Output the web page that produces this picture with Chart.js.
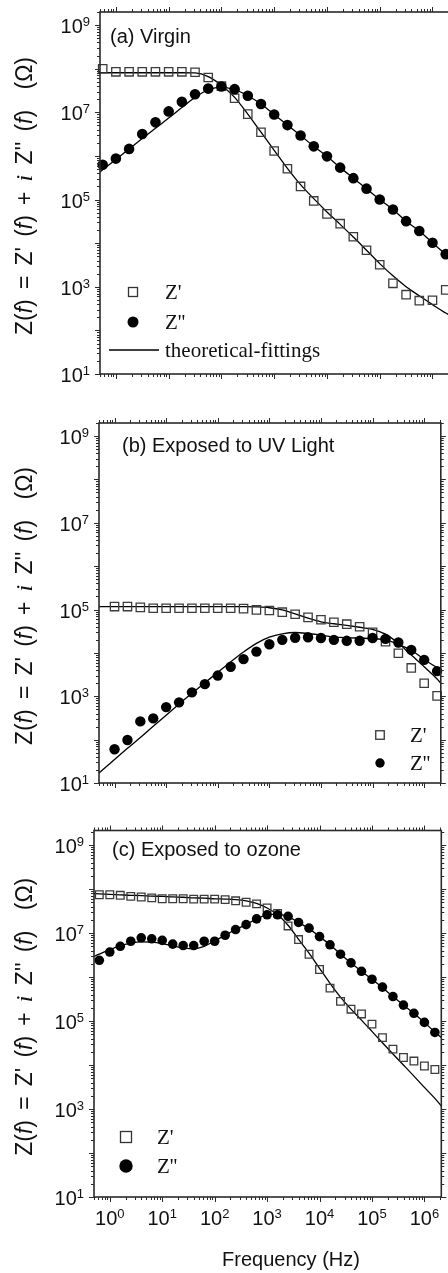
<!DOCTYPE html>
<html>
<head>
  <title>Impedance spectra</title>
  <script src="https://cdn.jsdelivr.net/npm/chart.js"></script>
  <style>
    html, body { margin: 0; padding: 0; overflow: hidden; background: #fff; }
    body { position: relative; width: 448px; height: 1273px; }
    canvas { position: absolute; left: 0; }
  </style>
</head>
<body>
  <canvas id="panelA" width="460" height="400" style="top:0px"></canvas>
  <canvas id="panelB" width="448" height="410" style="top:400px"></canvas>
  <canvas id="panelC" width="448" height="463" style="top:810px"></canvas>

  <script>
    // ---- (a) Virgin : quarter decade steps
    const freqA = [0.562, 1, 1.78, 3.16, 5.62, 10, 17.8, 31.6, 56.2, 100, 178, 316, 562, 1e3, 1.78e3, 3.16e3, 5.62e3,
      1e4, 1.78e4, 3.16e4, 5.62e4, 1e5, 1.78e5, 3.16e5, 5.62e5, 1e6, 1.78e6];
    const reA = [1.0e8, 8.5e7, 8.5e7, 8.5e7, 8.5e7, 8.5e7, 8.5e7, 8.3e7, 6.3e7, 4.0e7, 2.1e7, 9.1e6, 3.5e6, 1.3e6, 5.1e5,
      2.0e5, 9.3e4, 4.7e4, 2.8e4, 1.4e4, 6.9e3, 3.2e3, 1.2e3, 660, 480, 490, 850];
    const imA = [6.3e5, 8.7e5, 1.45e6, 3.2e6, 5.9e6, 1.05e7, 1.74e7, 2.6e7, 3.5e7, 3.9e7, 3.4e7, 2.4e7, 1.55e7, 8.9e6,
      5.1e6, 2.95e6, 1.66e6, 9.8e5, 5.4e5, 3.1e5, 1.78e5, 1.0e5, 5.9e4, 3.2e4, 1.9e4, 1.02e4, 5.6e3];
    const fitFreqA = [0.5, 0.562, 1, 1.78, 3.16, 5.62, 10, 17.8, 31.6, 56.2, 100, 178, 316, 562, 1e3, 1.78e3, 3.16e3, 5.62e3,
      1e4, 1.78e4, 3.16e4, 5.62e4, 1e5, 1.78e5, 3.16e5, 5.62e5, 1e6, 1.78e6, 2.1e6];
    const fitReA = [8.1e7, 8.1e7, 8.1e7, 8.1e7, 8.1e7, 8.1e7, 8.1e7, 8.1e7, 8.0e7, 6.6e7, 4.2e7, 2.2e7, 9.1e6, 3.5e6, 1.35e6,
      5.2e5, 2.2e5, 1.05e5, 5.2e4, 2.7e4, 1.38e4, 6.9e3, 3.4e3, 1.78e3, 1.0e3, 620, 390, 250, 224];
    const fitImA = [4.3e5, 4.8e5, 8.3e5, 1.45e6, 2.5e6, 4.3e6, 7.4e6, 1.29e7, 2.2e7, 3.3e7, 3.8e7, 3.3e7, 2.4e7, 1.55e7,
      8.9e6, 5.1e6, 2.95e6, 1.66e6, 9.8e5, 5.4e5, 3.1e5, 1.78e5, 1.0e5, 5.9e4, 3.2e4, 1.9e4, 1.02e4, 5.6e3, 4.8e3];

    // ---- (b) Exposed to UV light
    const freqB = [1, 1.78, 3.16, 5.62, 10, 17.8, 31.6, 56.2, 100, 178, 316, 562, 1e3, 1.78e3, 3.16e3, 5.62e3,
      1e4, 1.78e4, 3.16e4, 5.62e4, 1e5, 1.78e5, 3.16e5, 5.62e5, 1e6, 1.78e6];
    const reB = [1.17e5, 1.17e5, 1.12e5, 1.07e5, 1.07e5, 1.07e5, 1.07e5, 1.07e5, 1.07e5, 1.07e5, 1.05e5, 9.8e4, 9.5e4,
      8.7e4, 7.8e4, 6.6e4, 5.8e4, 5.1e4, 4.6e4, 4.0e4, 3.0e4, 1.82e4, 9.8e3, 4.5e3, 2.0e3, 1.02e3];
    const imB = [60, 98, 263, 309, 562, 724, 1230, 1900, 3000, 4800, 7200, 1.07e4, 1.58e4, 2.0e4, 2.24e4, 2.3e4, 2.2e4,
      2.0e4, 1.9e4, 1.9e4, 2.2e4, 2.1e4, 1.74e4, 1.17e4, 6900, 3800];
    const fitFreqB = [0.5, 1, 1.78, 3.16, 5.62, 10, 17.8, 31.6, 56.2, 100, 178, 316, 562, 1e3, 1.78e3, 3.16e3, 5.62e3,
      1e4, 1.78e4, 3.16e4, 5.62e4, 1e5, 1.78e5, 3.16e5, 5.62e5, 1e6, 1.78e6, 2.1e6];
    const fitReB = [1.17e5, 1.17e5, 1.17e5, 1.17e5, 1.17e5, 1.17e5, 1.17e5, 1.17e5, 1.17e5, 1.17e5, 1.17e5, 1.17e5,
      1.15e5, 1.10e5, 9.8e4, 7.9e4, 6.3e4, 5.2e4, 4.7e4, 4.3e4, 3.9e4, 3.5e4, 2.7e4, 1.66e4, 8.9e3, 4.8e3, 2.5e3, 2.0e3];
    const fitImB = [17, 35, 63, 112, 204, 363, 661, 1170, 2040, 3550, 6200, 1.05e4, 1.66e4, 2.3e4, 2.75e4, 2.95e4,
      2.8e4, 2.57e4, 2.34e4, 2.24e4, 2.19e4, 2.14e4, 2.0e4, 1.58e4, 1.15e4, 7100, 4600, 4200];

    // ---- (c) Exposed to ozone : fifth decade steps
    const freqC = [0.631, 1, 1.585, 2.512, 3.981, 6.31, 10, 15.85, 25.12, 39.81, 63.1, 100, 158.5, 251.2, 398.1, 631,
      1000, 1585, 2512, 3981, 6310, 1e4, 1.585e4, 2.512e4, 3.981e4, 6.31e4, 1e5, 1.585e5, 2.512e5, 3.981e5, 6.31e5,
      1e6, 1.585e6];
    const reC = [7.4e7, 7.4e7, 7.2e7, 6.8e7, 6.6e7, 6.3e7, 6.0e7, 6.0e7, 6.0e7, 5.9e7, 5.9e7, 5.9e7, 5.75e7, 5.4e7,
      5.0e7, 4.6e7, 3.7e7, 2.8e7, 1.45e7, 7.1e6, 3.3e6, 1.48e6, 5.6e5, 2.8e5, 1.86e5, 1.45e5, 8.5e4, 4.2e4, 2.3e4,
      1.48e4, 1.23e4, 9.5e3, 7.9e3];
    const imC = [2.4e6, 3.7e6, 5.0e6, 6.5e6, 7.8e6, 7.4e6, 6.8e6, 5.6e6, 5.2e6, 5.2e6, 6.5e6, 6.5e6, 8.9e6, 1.2e7,
      1.55e7, 2.1e7, 2.6e7, 2.6e7, 2.4e7, 1.74e7, 1.29e7, 8.3e6, 5.4e6, 3.3e6, 2.1e6, 1.35e6, 8.9e5, 5.9e5, 3.6e5,
      2.3e5, 1.5e5, 9.3e4, 5.5e4];
    const fitFreqC = [0.5, 0.631, 1, 1.585, 2.512, 3.981, 6.31, 10, 15.85, 25.12, 39.81, 63.1, 100, 158.5, 251.2, 398.1,
      631, 1000, 1585, 2512, 3981, 6310, 1e4, 1.585e4, 2.512e4, 3.981e4, 6.31e4, 1e5, 1.585e5, 2.512e5, 3.981e5,
      6.31e5, 1e6, 1.585e6, 2.1e6];
    const fitReC = [7.9e7, 7.8e7, 7.6e7, 7.4e7, 7.2e7, 7.1e7, 6.9e7, 6.8e7, 6.6e7, 6.5e7, 6.3e7, 6.2e7, 6.0e7, 5.9e7,
      5.75e7, 5.4e7, 4.7e7, 3.7e7, 2.6e7, 1.5e7, 7.2e6, 3.5e6, 1.58e6, 7.2e5, 3.5e5, 1.86e5, 1.05e5, 5.8e4, 3.2e4,
      1.78e4, 1.0e4, 5.6e3, 3.1e3, 1.74e3, 1.17e3];
    const fitImC = [2.95e6, 3.3e6, 4.2e6, 5.1e6, 5.9e6, 6.3e6, 6.2e6, 5.75e6, 5.1e6, 4.6e6, 4.4e6, 5.0e6, 6.6e6, 8.9e6,
      1.2e7, 1.55e7, 2.1e7, 2.6e7, 2.7e7, 2.35e7, 1.74e7, 1.26e7, 8.3e6, 5.4e6, 3.3e6, 2.1e6, 1.35e6, 8.9e5, 5.75e5,
      3.6e5, 2.3e5, 1.48e5, 9.3e4, 5.6e4, 4.2e4];

    // axis ticks
    const xDecades = [0, 1, 2, 3, 4, 5, 6];
    const yLabelDecades = [1, 3, 5, 7, 9];

    const SANS = '"Liberation Sans", Arial, sans-serif';
    const SERIF = '"Liberation Serif", "Times New Roman", serif';

    function pts(xs, ys) {
      return xs.map((x, i) => ({ x: x, y: ys[i] }));
    }

    // "10" with a raised exponent
    function drawPow(ctx, exp, x, base, align) {
      ctx.font = '20px ' + SANS;
      const w10 = ctx.measureText('10').width;
      ctx.font = '13px ' + SANS;
      const we = ctx.measureText(String(exp)).width;
      let left = align === 'right' ? x - w10 - we : x - (w10 + we) / 2;
      ctx.textAlign = 'left';
      ctx.textBaseline = 'alphabetic';
      ctx.font = '20px ' + SANS;
      ctx.fillText('10', left, base);
      ctx.font = '13px ' + SANS;
      ctx.fillText(String(exp), left + w10, base - 7);
    }

    // y title with italic f and i, rotated; spaces are widened to reach the target length
    function drawYTitle(ctx, cx, cy, target) {
      const parts = [
        ['Z(', '23px ' + SANS], ['f', 'italic 23px ' + SANS], [') = Z\' (', '23px ' + SANS],
        ['f', 'italic 23px ' + SANS], [') + ', '23px ' + SANS], ['i', 'italic 24px ' + SERIF],
        [' Z\'\' (', '23px ' + SANS], ['f', 'italic 23px ' + SANS], [')  (\u03A9)', '23px ' + SANS]
      ];
      let total = 0, spaces = 0;
      parts.forEach(p => {
        ctx.font = p[1];
        total += ctx.measureText(p[0]).width;
        spaces += (p[0].match(/ /g) || []).length;
      });
      const extra = Math.max(0, (target - total) / spaces);
      ctx.save();
      ctx.translate(cx, cy);
      ctx.rotate(-Math.PI / 2);
      ctx.textAlign = 'left';
      ctx.textBaseline = 'alphabetic';
      let pos = -(total + extra * spaces) / 2;
      parts.forEach(p => {
        ctx.font = p[1];
        for (const ch of p[0]) {
          ctx.fillText(ch, pos, 0);
          pos += ctx.measureText(ch).width + (ch === ' ' ? extra : 0);
        }
      });
      ctx.restore();
    }

    const decor = {
      id: 'decor',
      afterDraw(chart, args, o) {
        const ctx = chart.ctx;
        const a = chart.chartArea;
        const x = chart.scales.x, y = chart.scales.y;
        ctx.save();
        ctx.fillStyle = '#111';
        ctx.strokeStyle = '#2a2a2a';

        // frame
        ctx.lineWidth = 1.6;
        ctx.strokeRect(a.left, a.top, a.right - a.left, a.bottom - a.top);

        // ticks, pointing out
        ctx.lineWidth = 1;
        ctx.beginPath();
        for (let k = -1; k <= 6; k++) {
          for (let j = 1; j <= 9; j++) {
            const v = j * Math.pow(10, k);
            if (v < x.min || v > x.max) continue;
            const px = Math.round(x.getPixelForValue(v)) + 0.5;
            const len = j === 1 ? 5 : 3;
            ctx.moveTo(px, a.bottom); ctx.lineTo(px, a.bottom + len);
            ctx.moveTo(px, a.top); ctx.lineTo(px, a.top - len);
          }
        }
        for (let k = 1; k <= 9; k++) {
          for (let j = 1; j <= 9; j++) {
            const v = j * Math.pow(10, k);
            if (v < y.min || v > y.max) continue;
            const py = Math.round(y.getPixelForValue(v)) + 0.5;
            const len = j === 1 ? 5 : 3;
            ctx.moveTo(a.left, py); ctx.lineTo(a.left - len, py);
            ctx.moveTo(a.right, py); ctx.lineTo(a.right + len, py);
          }
        }
        ctx.stroke();

        // y tick labels
        yLabelDecades.forEach(k => {
          const py = y.getPixelForValue(Math.pow(10, k));
          drawPow(ctx, k, a.left - 10, py + 8, 'right');
        });

        // x tick labels (bottom panel only)
        if (o.xLabels) {
          xDecades.forEach(k => {
            const px = x.getPixelForValue(Math.pow(10, k));
            drawPow(ctx, k, px, a.bottom + 28, 'center');
          });
          ctx.font = '20px ' + SANS;
          ctx.textAlign = 'center';
          ctx.fillText('Frequency (Hz)', o.xTitleX, a.bottom + 69);
        }

        // panel caption
        ctx.font = '20px ' + SANS;
        ctx.textAlign = 'left';
        ctx.textBaseline = 'alphabetic';
        ctx.fillText(o.caption, o.capX, o.capY);

        drawYTitle(ctx, 32, (a.top + a.bottom) / 2 + 3, 278);

        // legend
        const lg = o.legend;
        ctx.font = '21px ' + SERIF;
        ctx.textBaseline = 'middle';
        ctx.textAlign = 'left';
        ctx.strokeStyle = '#333';
        ctx.lineWidth = 1.3;
        ctx.strokeRect(lg.x - lg.sq / 2, lg.y1 - lg.sq / 2, lg.sq, lg.sq);
        ctx.fillText('Z\'', lg.tx, lg.y1 + 1);
        ctx.beginPath();
        ctx.arc(lg.x, lg.y2, lg.r, 0, Math.PI * 2);
        ctx.fillStyle = '#000';
        ctx.fill();
        ctx.fillStyle = '#111';
        ctx.fillText('Z\'\'', lg.tx, lg.y2 + 1);
        if (lg.y3) {
          ctx.strokeStyle = '#000';
          ctx.beginPath();
          ctx.moveTo(lg.x - 24, lg.y3); ctx.lineTo(lg.x + 26, lg.y3);
          ctx.stroke();
          ctx.fillText('theoretical-fittings', lg.tx, lg.y3 + 1);
        }
        ctx.restore();
      }
    };

    function makePanel(id, d, opt) {
      return new Chart(document.getElementById(id), {
        type: 'line',
        data: {
          datasets: [
            {
              label: "Z''", data: pts(d.freq, d.im), showLine: false, pointStyle: 'circle',
              pointRadius: opt.dot, pointBackgroundColor: '#000', pointBorderColor: '#000', pointBorderWidth: 0
            },
            {
              label: "Z'", data: pts(d.freq, d.re), showLine: false, pointStyle: 'rect',
              pointRadius: opt.sq, pointBackgroundColor: 'rgba(255,255,255,0)', pointBorderColor: '#3c3c3c',
              pointBorderWidth: 1.3
            },
            {
              label: "Z' fit", data: pts(d.fitFreq, d.fitRe), borderColor: '#000', borderWidth: 1.3,
              pointRadius: 0, cubicInterpolationMode: 'monotone', fill: false
            },
            {
              label: "Z'' fit", data: pts(d.fitFreq, d.fitIm), borderColor: '#000', borderWidth: 1.3,
              pointRadius: 0, cubicInterpolationMode: 'monotone', fill: false
            }
          ]
        },
        options: {
          responsive: false,
          animation: false,
          clip: false,
          layout: { padding: opt.pad },
          plugins: {
            legend: { display: false },
            tooltip: { enabled: false },
            decor: opt.decor
          },
          scales: {
            x: { type: 'logarithmic', min: 0.5, max: 2.1e6, display: false },
            y: { type: 'logarithmic', min: 10, max: opt.ymax, display: false }
          }
        },
        plugins: [decor]
      });
    }

    makePanel('panelA',
      { freq: freqA, re: reA, im: imA, fitFreq: fitFreqA, fitRe: fitReA, fitIm: fitImA },
      {
        dot: 5.3, sq: 5.9, ymax: 2e9,
        pad: { left: 100, right: 10.5, top: 12, bottom: 26 },
        decor: {
          caption: '(a) Virgin', capX: 110, capY: 43,
          legend: { x: 133, tx: 165, sq: 9, r: 5.5, y1: 292, y2: 322, y3: 350 }
        }
      });

    makePanel('panelB',
      { freq: freqB, re: reB, im: imB, fitFreq: fitFreqB, fitRe: fitReB, fitIm: fitImB },
      {
        dot: 5.2, sq: 5.9, ymax: 2e9,
        pad: { left: 99, right: 3, top: 23, bottom: 27 },
        decor: {
          caption: '(b) Exposed to UV Light', capX: 122, capY: 52,
          legend: { x: 380, tx: 410, sq: 8.5, r: 4.7, y1: 335, y2: 363 }
        }
      });

    makePanel('panelC',
      { freq: freqC, re: reC, im: imC, fitFreq: fitFreqC, fitRe: fitReC, fitIm: fitImC },
      {
        dot: 4.8, sq: 5.4, ymax: 2.14e9,
        pad: { left: 94, right: 5, top: 20.5, bottom: 76 },
        decor: {
          caption: '(c) Exposed to ozone', capX: 112, capY: 46,
          legend: { x: 126, tx: 157, sq: 11, r: 6.7, y1: 327, y2: 356 },
          xLabels: true, xTitleX: 291
        }
      });
  </script>
</body>
</html>
